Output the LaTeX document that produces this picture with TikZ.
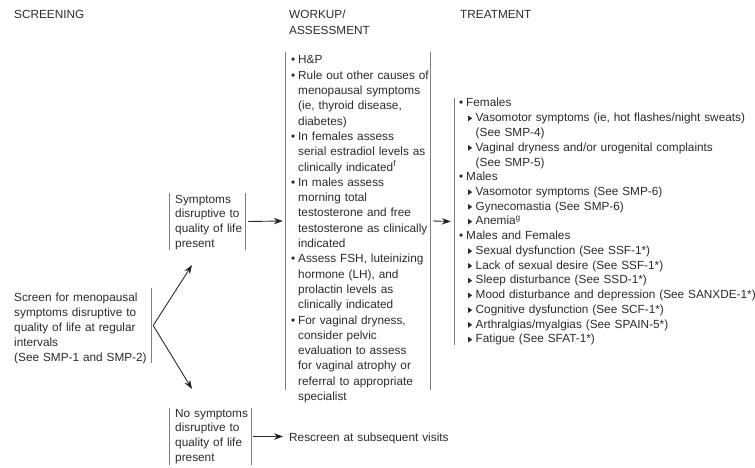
\documentclass[tikz,border=0pt]{standalone}
\usepackage{fontspec}
\setmainfont{Liberation Sans}
\usetikzlibrary{arrows.meta}
\definecolor{txt}{HTML}{2B2B2B}
\definecolor{barc}{HTML}{808080}
\newcommand\bul{\makebox[7pt][l]{\textbullet}}
\newcommand\cnt{\hspace*{7pt}}
\newcommand\tri{\hspace*{9pt}\makebox[7.5pt][l]{\tikz[x=1pt,y=1pt,baseline=0pt]\fill[txt] (0,0.6)--(0,6.2)--(4,3.4)--cycle;}}
\newcommand\cnttwo{\hspace*{16.5pt}}
\begin{document}
\begin{tikzpicture}[x=1pt,y=-1pt,
  txtnode/.style={inner sep=0pt, anchor=base west, align=left, text width=320pt, text=txt,
    font=\fontsize{11.8}{#1}\selectfont},
  txtnode/.default=15,
  region/.style={inner sep=0pt, draw=none, shape=rectangle},
  bar/.style={draw=barc, line width=1.2pt},
  arr/.style={draw=txt, line width=0.9pt, -{Stealth[length=9pt,width=6.5pt]}}]
\path[use as bounding box] (0,0) rectangle (755,468);

% headers
\node[txtnode] (h1) at (14,19) {SCREENING};
\node[txtnode=15.6] (h2) at (289,19) {WORKUP/\\ASSESSMENT};
\node[txtnode] (h3) at (460,19) {TREATMENT};

% regions (box geometry)
\node[region, minimum width=137pt, minimum height=75pt] (screen) at (82.5,325.5) {};
\node[region, minimum width=75pt, minimum height=57pt] (symp) at (207.5,221.5) {};
\node[region, minimum width=81pt, minimum height=57pt] (nosymp) at (210.5,436.5) {};
\node[region, minimum width=144pt, minimum height=338pt] (work) at (358,221) {};
\node[region, minimum width=295pt, minimum height=247pt] (treat) at (602.5,221.5) {};

% bars
\draw[bar] (screen.north east) -- (screen.south east);
\draw[bar] (symp.north west) -- (symp.south west);
\draw[bar] (symp.north east) -- (symp.south east);
\draw[bar] (nosymp.north west) -- (nosymp.south west);
\draw[bar] (nosymp.north east) -- (nosymp.south east);
\draw[bar] (work.north west) -- (work.south west);
\draw[bar] (work.north east) -- (work.south east);
\draw[bar] (treat.north west) -- (treat.south west);

% texts
\node[txtnode] (screentxt) at (14,301) {Screen for menopausal\\symptoms disruptive to\\quality of life at regular\\intervals\\(See SMP-1 and SMP-2)};
\node[txtnode=14.8] (symptxt) at (175,203) {Symptoms\\disruptive to\\quality of life\\present};
\node[txtnode=14.8] (nosymptxt) at (175,417) {No symptoms\\disruptive to\\quality of life\\present};
\node[txtnode] (rescreen) at (289,441) {Rescreen at subsequent visits};

\node[txtnode=15.3] (worktxt) at (291,64) {\bul H\&P\\
\bul Rule out other causes of\\
\cnt menopausal symptoms\\
\cnt (ie, thyroid disease,\\
\cnt diabetes)\\
\bul In females assess\\
\cnt serial estradiol levels as\\
\cnt clinically indicated\textsuperscript{f}\\
\bul In males assess\\
\cnt morning total\\
\cnt testosterone and free\\
\cnt testosterone as clinically\\
\cnt indicated\\
\bul Assess FSH, luteinizing\\
\cnt hormone (LH), and\\
\cnt prolactin levels as\\
\cnt clinically indicated\\
\bul For vaginal dryness,\\
\cnt consider pelvic\\
\cnt evaluation to assess\\
\cnt for vaginal atrophy or\\
\cnt referral to appropriate\\
\cnt specialist};

\node[txtnode=14.75] (treattxt) at (459,107) {\bul Females\\
\tri Vasomotor symptoms (ie, hot flashes/night sweats)\\
\cnttwo (See SMP-4)\\
\tri Vaginal dryness and/or urogenital complaints\\
\cnttwo (See SMP-5)\\
\bul Males\\
\tri Vasomotor symptoms (See SMP-6)\\
\tri Gynecomastia (See SMP-6)\\
\tri Anemia\textsuperscript{g}\\
\bul Males and Females\\
\tri Sexual dysfunction (See SSF-1*)\\
\tri Lack of sexual desire (See SSF-1*)\\
\tri Sleep disturbance (See SSD-1*)\\
\tri Mood disturbance and depression (See SANXDE-1*)\\
\tri Cognitive dysfunction (See SCF-1*)\\
\tri Arthralgias/myalgias (See SPAIN-5*)\\
\tri Fatigue (See SFAT-1*)};

% arrows
\coordinate (tipU) at (192,265);
\coordinate (tipD) at (192,389);
\draw[arr] ([xshift=2pt]screen.east) -- (tipU);
\draw[arr] ([xshift=2pt]screen.east) -- (tipD);
\draw[arr] ([xshift=3pt]symp.east) -- ([xshift=-3pt]work.west);
\draw[arr] ([xshift=3pt]work.east) -- ([xshift=-4pt]treat.west);
\draw[arr] ([xshift=2pt]nosymp.east) -- ([xshift=-6pt]rescreen.west |- nosymp.east);
\end{tikzpicture}
\end{document}
